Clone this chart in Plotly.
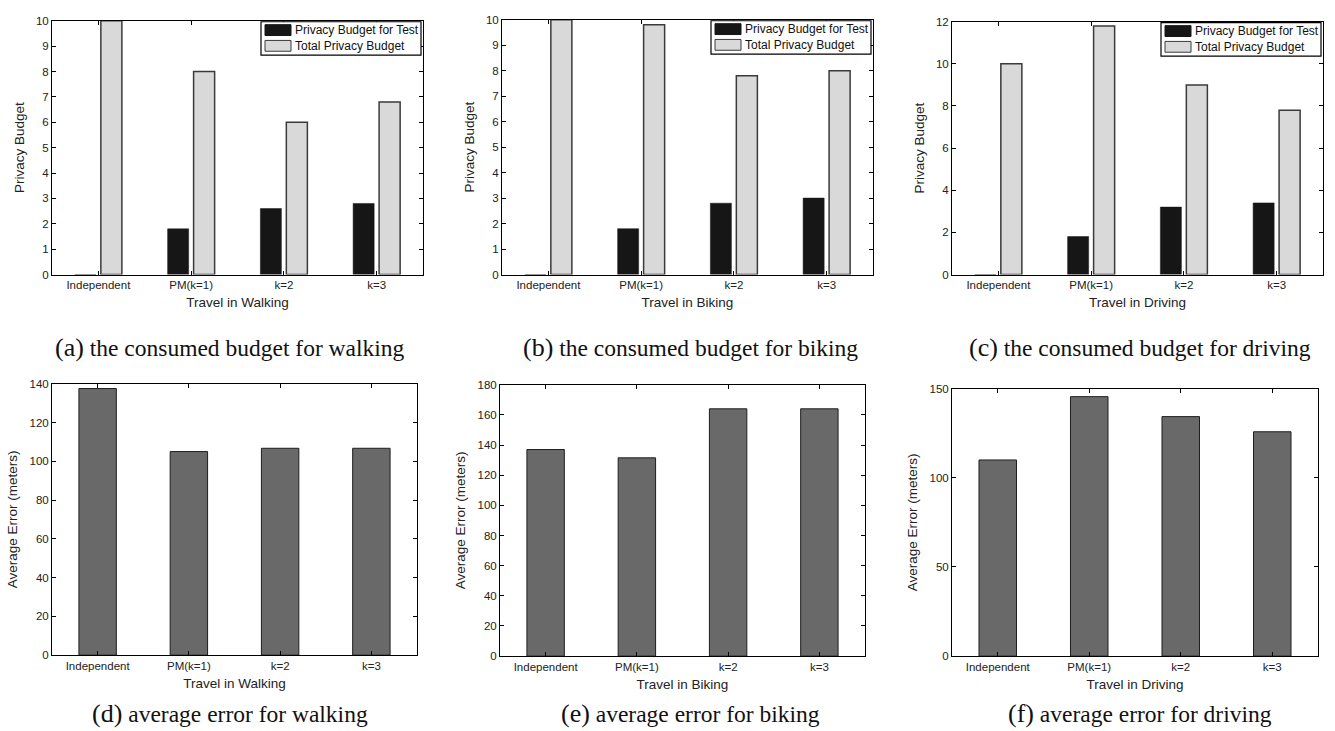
import plotly.graph_objects as go

# ---------------- data ----------------
categories = ["Independent", "PM(k=1)", "k=2", "k=3"]

walk_test = [0, 1.8, 2.6, 2.8]
walk_total = [10, 8, 6, 6.8]
bike_test = [0, 1.8, 2.8, 3.0]
bike_total = [10, 9.8, 7.8, 8.0]
drive_test = [0, 1.8, 3.2, 3.4]
drive_total = [10, 11.8, 9.0, 7.8]

walk_err = [137.5, 105, 106.7, 106.7]
bike_err = [137, 131.5, 164, 164]
drive_err = [110, 145.5, 134.3, 125.8]

x_titles = ["Travel in Walking", "Travel in Biking", "Travel in Driving"]
legend_names = ["Privacy Budget for Test", "Total Privacy Budget"]
captions_top = ["the consumed budget for walking", "the consumed budget for biking",
                "the consumed budget for driving"]
captions_bot = ["average error for walking", "average error for biking", "average error for driving"]
caption_tags = ["(a)", "(b)", "(c)", "(d)", "(e)", "(f)"]

# ---------------- layout geometry (pixels) ----------------
W, H = 1335, 731
# (left, right, top, bottom) of each plot area
boxes = [
    (52, 423, 15, 273),
    (502, 873, 14, 273),
    (952, 1323, 16, 273),
    (52, 417, 384, 660),
    (500, 865, 385, 661),
    (952, 1318, 389, 661),
]
yranges = [(0, 10, 1), (0, 10, 1), (0, 12, 2), (0, 140, 20), (0, 180, 20), (0, 150, 50)]

FONT = "Liberation Sans, Arial, sans-serif"
C_TEST = "#161616"
C_TOTAL = "#d9d9d9"
C_TOTAL_LINE = "#3a3a3a"
C_ERR = "#696969"
C_ERR_LINE = "#1e1e1e"

fig = go.Figure()

tests = [walk_test, bike_test, drive_test]
totals = [walk_total, bike_total, drive_total]
errs = [walk_err, bike_err, drive_err]

for i in range(3):
    ax = "" if i == 0 else str(i + 1)
    fig.add_trace(go.Bar(x=categories, y=tests[i], name=legend_names[0],
                         marker=dict(color=C_TEST, line=dict(color=C_TEST, width=0.5)),
                         xaxis="x" + ax, yaxis="y" + ax, offsetgroup="a", showlegend=False))
    fig.add_trace(go.Bar(x=categories, y=totals[i], name=legend_names[1],
                         marker=dict(color=C_TOTAL, line=dict(color=C_TOTAL_LINE, width=1.5)),
                         xaxis="x" + ax, yaxis="y" + ax, offsetgroup="b", showlegend=False))
for i in range(3):
    ax = str(i + 4)
    fig.add_trace(go.Bar(x=categories, y=errs[i], width=0.41,
                         marker=dict(color=C_ERR, line=dict(color=C_ERR_LINE, width=1)),
                         xaxis="x" + ax, yaxis="y" + ax, showlegend=False))

layout_axes = {}
for k, (l, r, t, b) in enumerate(boxes):
    n = "" if k == 0 else str(k + 1)
    y0, y1, dt = yranges[k]
    xdom = [l / W, r / W]
    ydom = [1 - b / H, 1 - t / H]
    layout_axes["xaxis" + n] = dict(
        domain=xdom, anchor="y" + n, type="category", range=[-0.5, 3.5],
        showline=True, linecolor="black", linewidth=1, mirror="ticks",
        ticks="inside", ticklen=4, tickcolor="black",
        tickfont=dict(family=FONT, size=11.5, color="#222"),
        title=dict(text=x_titles[k % 3], font=dict(family=FONT, size=13.5, color="#222"), standoff=7),
        showgrid=False, zeroline=False, fixedrange=True,
    )
    layout_axes["yaxis" + n] = dict(
        domain=ydom, anchor="x" + n, range=[y0, y1], dtick=dt, tick0=0,
        showline=True, linecolor="black", linewidth=1, mirror="ticks",
        ticks="inside", ticklen=4, tickcolor="black",
        tickfont=dict(family=FONT, size=11.5, color="#222"),
        title=dict(text="Privacy Budget" if k < 3 else "Average Error (meters)",
                   font=dict(family=FONT, size=13.5, color="#222"), standoff=8),
        showgrid=False, zeroline=False, fixedrange=True,
    )

fig.update_layout(**layout_axes)

shapes = []
annotations = []
# legends for top row, drawn in each axis' domain coordinates
for k in range(3):
    l, r, t, b = boxes[k]
    pw, ph = r - l, b - t
    n = "" if k == 0 else str(k + 1)
    xr, yr = "x" + n + " domain", "y" + n + " domain"
    bx0 = 1 - 162 / pw
    bx1 = 1 - 2 / pw
    by1 = 1 - 1 / ph
    by0 = 1 - 35 / ph
    shapes.append(dict(type="rect", xref=xr, yref=yr, x0=bx0, x1=bx1, y0=by0, y1=by1,
                       line=dict(color="black", width=1.2), fillcolor="white", layer="above"))
    for j, (fc, lc) in enumerate([(C_TEST, C_TEST), (C_TOTAL, C_TOTAL_LINE)]):
        top = 4 + j * 16
        shapes.append(dict(type="rect", xref=xr, yref=yr,
                           x0=bx0 + 4 / pw, x1=bx0 + 30 / pw,
                           y0=1 - (top + 11) / ph, y1=1 - top / ph,
                           line=dict(color=lc, width=1), fillcolor=fc, layer="above"))
        annotations.append(dict(xref=xr, yref=yr, x=bx0 + 32 / pw, y=1 - (top + 5.5) / ph,
                                text=legend_names[j], showarrow=False, xanchor="left",
                                yanchor="middle", font=dict(family=FONT, size=12, color="#111")))

cap_x = [230, 690, 1140]
cap_y = [347, 719]
all_caps = captions_top + captions_bot
for k in range(6):
    annotations.append(dict(
        xref="paper", yref="paper", x=cap_x[k % 3] / W, y=1 - cap_y[k // 3] / H,
        text="<span style='font-size:26px'>" + caption_tags[k] + "</span> " + all_caps[k],
        showarrow=False, xanchor="center", yanchor="middle",
        font=dict(family="Liberation Serif, Times New Roman, serif", size=23.5, color="#111")))

fig.update_layout(
    width=W, height=H, margin=dict(l=0, r=0, t=0, b=0),
    paper_bgcolor="white", plot_bgcolor="white",
    barmode="group", bargap=0.44, bargroupgap=0.19,
    shapes=shapes, annotations=annotations, showlegend=False,
)

fig.write_html("out.html", config={"displayModeBar": False},
               post_script="document.body.style.margin='0px';document.body.style.overflow='hidden';")
